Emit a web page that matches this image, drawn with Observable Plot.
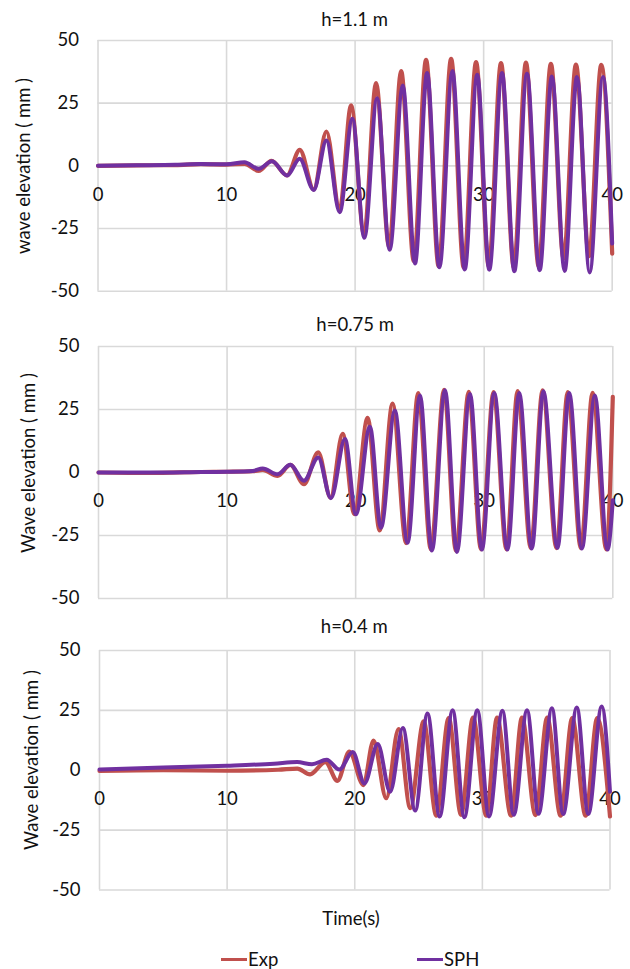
<!DOCTYPE html>
<html><head><meta charset="utf-8">
<script src="https://cdn.jsdelivr.net/npm/d3@7"></script>
<script src="https://cdn.jsdelivr.net/npm/@observablehq/plot@0.6"></script>
<style>
body{margin:0;background:#fff;}
#wrap{position:relative;width:630px;height:969px;font-family:Lato,"Open Sans",sans-serif;color:#111;overflow:hidden;}
#wrap svg{position:absolute;left:0;}
.abs{position:absolute;white-space:nowrap;line-height:1;}
.ttl{font-size:18.5px;transform:translate(-50%,-50%);}
.ylab{font-size:18.5px;transform:translate(-50%,-50%) rotate(-90deg);}
.leg{position:absolute;height:3px;}
</style></head><body><div id="wrap"></div>
<script>
// ---------- data ----------
const xTicks = [0, 10, 20, 30, 40];
const yTicks = [-50, -25, 0, 25, 50];
const panelTitles = ["h=1.1 m", "h=0.75 m", "h=0.4 m"];
const yTitles = ["wave elevation ( mm )", "Wave elevation ( mm )", "Wave elevation ( mm )"];
const xTitle = "Time(s)";
const seriesNames = ["Exp", "SPH"];
const seriesColors = ["#C0504D", "#7030A0"];

// panel 1 (h=1.1 m)
const p1ExpT = [0, 3, 6, 8, 10, 11.4, 12.5, 13.5, 14.7, 15.7, 16.78, 17.77, 18.8, 19.69, 20.7, 21.63, 22.65, 23.58, 24.57, 25.52, 26.5, 27.47, 28.45, 29.41, 30.4, 31.35, 32.35, 33.29, 34.28, 35.23, 36.22, 37.18, 38.2, 39.15, 40];
const p1ExpV = [0, 0.2, 0.3, 0.7, 0.5, 0.8, -2, 2, -3.8, 6.4, -9.4, 13.7, -17.5, 24.1, -27.5, 33, -32.5, 37.8, -38, 42.3, -40, 42.7, -40.5, 41.4, -40, 41, -40.5, 41.2, -40, 40.7, -37, 40.4, -36, 40.3, -35];
const p1SphT = [0, 3, 6, 8, 10, 11.39, 12.5, 13.54, 14.71, 15.69, 16.78, 17.77, 18.8, 19.79, 20.72, 21.71, 22.69, 23.71, 24.66, 25.6, 26.56, 27.57, 28.53, 29.5, 30.44, 31.43, 32.39, 33.37, 34.36, 35.31, 36.3, 37.26, 38.25, 39.28, 40];
const p1SphV = [0, 0.2, 0.4, 0.7, 0.6, 1.4, -1.2, 1.8, -3.9, 2.8, -9.6, 10.1, -18.5, 18.75, -28.7, 27, -33.5, 32, -39, 37, -40.5, 37.8, -41.3, 36.3, -41.4, 37, -42, 36.7, -41.6, 35.6, -41.9, 35.4, -42.5, 35.4, -31];

// panel 2 (h=0.75 m)
const p2ExpT = [0, 4, 8, 10, 12, 12.77, 13.93, 14.92, 15.98, 17.09, 18.05, 18.99, 19.9, 20.93, 21.87, 22.87, 23.93, 24.87, 25.85, 26.88, 27.8, 28.8, 29.75, 30.73, 31.73, 32.6, 33.62, 34.54, 35.62, 36.5, 37.52, 38.43, 39.5, 40];
const p2ExpV = [0, -0.2, 0.2, 0.3, 0.5, 1, -1.3, 3, -4.6, 8, -10, 15.3, -16.5, 21.7, -23, 27.3, -28, 31.5, -30.5, 32.8, -31, 32, -30.5, 31.9, -30.5, 32.3, -30, 32.6, -30, 31.9, -30, 31.6, -30.5, 30];
const p2SphT = [0, 4, 8, 10, 12, 12.77, 13.93, 14.92, 15.98, 17.09, 18.08, 19.17, 20.02, 21.11, 21.97, 23.05, 24.04, 25, 25.93, 26.95, 27.88, 28.89, 29.82, 30.78, 31.81, 32.72, 33.7, 34.6, 35.7, 36.61, 37.6, 38.6, 39.59, 40];
const p2SphV = [0, 0, 0.2, 0.3, 0.6, 1.6, -0.7, 3.1, -3.3, 6, -10.2, 13.3, -16.6, 18.2, -21.9, 24.6, -27.9, 30.6, -31, 32.6, -31.5, 31.2, -30.6, 31.5, -30.6, 31.5, -30.2, 32.2, -29.9, 31.5, -30.2, 30.6, -30.6, -11];

// panel 3 (h=0.4 m)
const p3ExpT = [0, 5, 10, 14, 15.5, 16.5, 17.7, 18.64, 19.58, 20.68, 21.47, 22.47, 23.43, 24.35, 25.4, 26.39, 27.36, 28.33, 29.27, 30.31, 31.15, 32.25, 33.1, 34.16, 35.08, 36.13, 37.04, 38.09, 39, 40];
const p3ExpV = [-0.3, 0, -0.2, 0.2, 0.7, -1.7, 3.4, -4.4, 7.8, -6.2, 12.4, -11.7, 17.2, -15.8, 20.4, -19, 21.8, -18.6, 22, -19, 22, -19, 22, -18.7, 22, -19, 21.8, -19, 21.8, -19.3];
const p3SphT = [0, 5, 10, 13.67, 15.48, 16.65, 17.8, 18.79, 19.84, 20.76, 21.8, 22.77, 23.77, 24.74, 25.7, 26.65, 27.67, 28.59, 29.6, 30.52, 31.57, 32.46, 33.5, 34.4, 35.45, 36.33, 37.4, 38.3, 39.35, 40];
const p3SphV = [0.3, 1.1, 1.9, 2.75, 3.4, 2.5, 4.4, 0.3, 7.6, -5.5, 11, -9, 17.6, -16.8, 23.7, -19.3, 25.1, -19.6, 25.1, -19.3, 24.8, -18.6, 25.1, -18.2, 25.9, -18.3, 26.2, -18.3, 26.6, -9];

// ---------- layout ----------
const FONT = 'Lato, "Open Sans", sans-serif';
const FS = 18.5;
const layout = [
  {svgTop: 30, plotH: 250.7, mL: 97.5, mR: 18.3, titleY: 18.5, ylabX: 23, ylabY: 166},
  {svgTop: 335.7, plotH: 252, mL: 98, mR: 17.7, titleY: 324, ylabX: 28, ylabY: 463},
  {svgTop: 640, plotH: 239.5, mL: 99, mR: 20.5, titleY: 626, ylabX: 31, ylabY: 760}
];
const series = [
  [[p1ExpT, p1ExpV], [p1SphT, p1SphV]],
  [[p2ExpT, p2ExpV], [p2SphT, p2SphV]],
  [[p3ExpT, p3ExpV], [p3SphT, p3SphV]]
];
const toRows = (T, V) => T.map((t, i) => ({t, v: V[i]}));

const wrap = document.getElementById("wrap");
layout.forEach((L, k) => {
  const mT = 10, mB = 8;
  const [exp, sph] = series[k];
  const chart = Plot.plot({
    width: 630,
    height: mT + L.plotH + mB,
    marginTop: mT, marginBottom: mB, marginLeft: L.mL, marginRight: L.mR,
    style: {fontFamily: FONT, fontSize: FS + "px", color: "#111", background: "transparent", overflow: "visible"},
    x: {domain: [0, 40], axis: null},
    y: {domain: [-50, 50]},
    marks: [
      Plot.ruleY(yTicks, {y: d => d, stroke: "#d9d9d9", strokeWidth: 1.6}),
      Plot.ruleX(xTicks, {x: d => d, stroke: "#d9d9d9", strokeWidth: 1.6}),
      Plot.axisY({ticks: yTicks, tickSize: 0, tickPadding: 19, label: null, fontSize: FS, tickFormat: d => String(d)}),
      Plot.text(xTicks, {x: d => d, y: 0, dy: 29, text: d => String(d), fontSize: FS, fill: "#111"}),
      Plot.line(toRows(exp[0], exp[1]), {x: "t", y: "v", stroke: seriesColors[0], strokeWidth: 4.2, curve: "monotone-x"}),
      Plot.line(toRows(sph[0], sph[1]), {x: "t", y: "v", stroke: seriesColors[1], strokeWidth: 4, curve: "monotone-x"})
    ]
  });
  chart.style.top = L.svgTop + "px";
  wrap.appendChild(chart);

  const t = document.createElement("div");
  t.className = "abs ttl";
  t.textContent = panelTitles[k];
  t.style.left = ((L.mL + 630 - L.mR) / 2) + "px";
  t.style.top = L.titleY + "px";
  wrap.appendChild(t);

  const y = document.createElement("div");
  y.className = "abs ylab";
  y.textContent = yTitles[k];
  y.style.left = L.ylabX + "px";
  y.style.top = L.ylabY + "px";
  wrap.appendChild(y);
});

const xt = document.createElement("div");
xt.className = "abs ttl";
xt.textContent = xTitle;
xt.style.left = "351px";
xt.style.top = "918px";
wrap.appendChild(xt);

const legendPos = [{lineX: 221, textX: 248}, {lineX: 417, textX: 444}];
seriesNames.forEach((name, i) => {
  const ln = document.createElement("div");
  ln.className = "leg";
  ln.style.left = legendPos[i].lineX + "px";
  ln.style.top = "957.5px";
  ln.style.width = "26px";
  ln.style.background = seriesColors[i];
  wrap.appendChild(ln);
  const tx = document.createElement("div");
  tx.className = "abs";
  tx.style.fontSize = FS + "px";
  tx.style.left = legendPos[i].textX + "px";
  tx.style.top = "959px";
  tx.style.transform = "translateY(-50%)";
  tx.textContent = name;
  wrap.appendChild(tx);
});
</script>
</body></html>
